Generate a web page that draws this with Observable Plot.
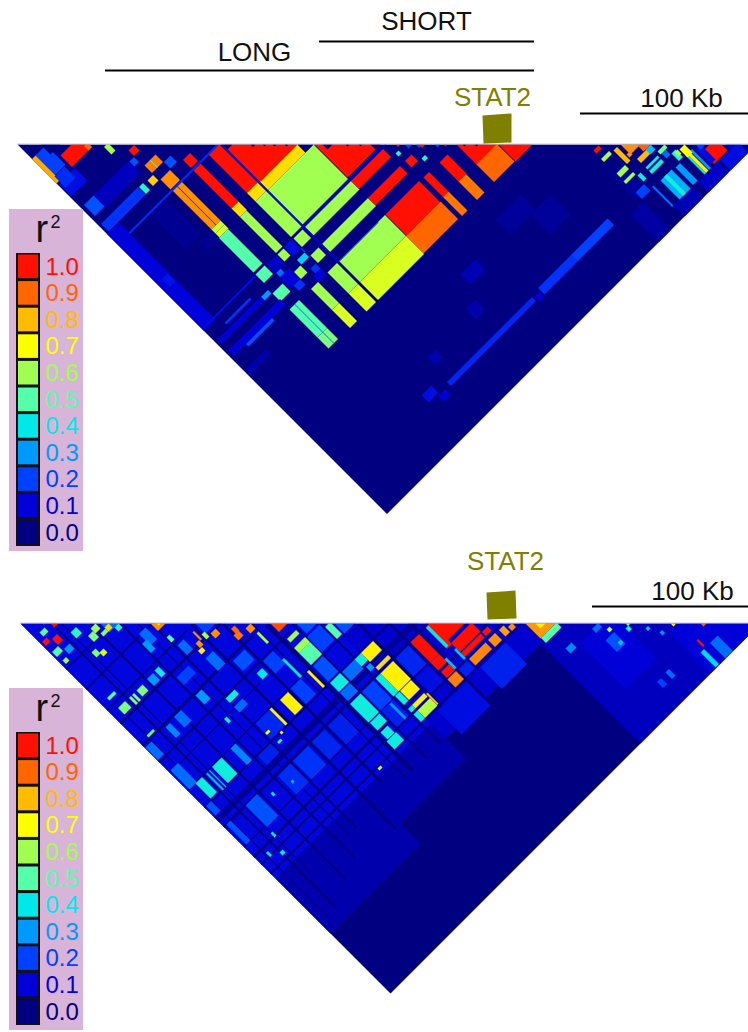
<!DOCTYPE html>
<html><head><meta charset="utf-8">
<script src="https://cdn.jsdelivr.net/npm/d3@7"></script>
<script src="https://cdn.jsdelivr.net/npm/@observablehq/plot@0.6"></script>
<style>
html,body{margin:0;padding:0;background:#fff}
svg{display:block;font-family:"Liberation Sans",Arial,sans-serif}
g[aria-label="line"].ld{filter:blur(.45px)}
</style></head><body><div id="chart"></div>
<script>
// r² colour key
const r2Values=[0,.1,.2,.3,.4,.5,.6,.7,.8,.9,1];
const r2Colors=["#000080","#0000d8","#0040ff","#0099ff","#00e8e8","#55ffaa","#a0ff50","#ffff00","#ffbb00","#ff6600","#ff1000"];
const r2Labels=["0.0","0.1","0.2","0.3","0.4","0.5","0.6","0.7","0.8","0.9","1.0"];

// Blocks of pairwise LD: [marker-A from, to, marker-B from, to, r²], positions along the region
const topBlocks=[
// central haplotype block
[222,297,222,297,1],[314,380,314,380,1],[456,497,456,497,1],[498,532,498,532,1],
[222,297,297,313,.75],[222,313,313,382,.6],
[198,219,218,295,1],[198,219,295,312,.75],[198,219,312,383,.6],[199,217,387,404,.6],[199,215,421,436,.6],
[167,181,198,214,1],[167,181,219,295,1],[167,181,295,312,.75],[167,180,312,384,.6],[167,179,387,401,.6],[166,179,421,435,.6],
[125,144,195,215,.85],[126,144,218,296,.85],[126,144,296,304,.64],[126,144,304,312,.66],[125,143,312,381,.5],[125,143,385,402,.5],[123,143,421,437,.5],[124,143,454,510,.5],[124,143,510,532,.55],
[222,314,387,404,.6],[314,378,387,403,1],[222,314,421,437,.6],[314,378,421,436,1],
[315,382,455,497,1],[314,383,497,532,.9],[222,314,455,497,.6],[222,314,497,533,.66],
[199,218,455,497,.6],[199,218,497,533,.66],[166,180,455,497,.6],[166,180,497,533,.66],
[421,437,457,495,1],[421,436,495,532,.88],[390,401,456,495,1],[390,401,495,533,.88],
[456,497,496,531,.9],[388,401,421,434,1],
// faint and thin
[181,196,412,421,.37],[147,156,404,414,.25],[186,196,434,444,.18],[152,165,434,445,.18],[108,122,413,420,.3],
[196,198,404,412,.2],[181,196,386,404,.12],[181,196,444,456,.1],[146,165,386,404,.08],[146,165,412,434,.1],
[220,222,220,384,.12],[219,222,384,455,.08],[22,216,216,219,.17],[216,386,384,386,.1],[134.5,135.5,218,296,.15],[134,135,454,532,.25],
[222,300,455,456,.05],
[49,89,71,94,1],[82,89,71,94,.9],[101,109,106,121,.6],[122,133,134,145,1],
[97,121,146,156,.22],[146,159,181,194,.22],[123,145,165,180,.87],[133.5,134.5,165,180,.5],[111,122,183,194,.77],[96,104,181,195,.45],
[21,95,180,195,.18],[23,44,144,166,.22],[19,51,98,123,.12],[42,112,144,168,.07],
[24,45,46,85,.2],[17,24,46,95,.82],[22,42,86,108,.17],
[17,40,196,390,.1],[27,38,296,312,.13],[46,98,442,450,.22],[46,96,402,406,.18],[22,124,385,388,.12],[22,108,412,420,.1],[22,125,434,445,.1],[20,60,470,480,.05],
[80,110,220,290,.02],[100,125,296,312,.02],
// long strip
[209,379,684,692,.16],[394,460,681,694,.18],[460,533,681,694,.2],[382,392,686,696,.1],[170,190,672,686,.12],[186,200,690,700,.1],
[460,500,600,640,.03],[420,470,570,600,.03],[330,360,590,610,.06],[300,320,630,650,.05],[214,230,640,655,.05],
// STAT2 flank and right cluster
[580,600,640,690,.03],[560,585,700,756,.04],[660,700,735,756,.08],[704,740,735,756,.12],[587,604,683,696,.2],[612,650,734,756,.06],
[694,721,709,733,1],[674,677,696,734,.42],[677,682,696,734,.72],[683,687,696,734,.3],
[624,646,696,734,.33],[631,637,696,734,.42],[652,661,698,733,.3],[609,612,694,734,.25],[690,700,700,730,.12],
[586,602,615,621,.6],[587,604,645,653,.6],[586,605,660,665,.6],[607,614,619,646,.8],[622,644,651,659,.8],
[622,646,668,672,.42],[622,646,675,681,.42],[606,612,668,680,.42],[620,640,620,640,.85],[616,622,636,642,.85],
[587,597,599,605,1],[640,650,650,660,.35],[652,660,665,680,.25],[662,670,680,695,.45],[666,672,682,690,.6],
[650,664,664,670,.55],[636,650,636,650,.9],[674,684,684,700,.7],
[695,705,695,705,.2],[725,735,725,735,.1],
// diagonal notches along the top
[222,232,222,232,.0],[250,255,250,255,0],[262,266,262,266,0],[272,276,272,276,0],[284,288,284,288,0],[297,313,297,313,0],
[322,332,322,332,0],[345,349,345,349,0],[358,362,358,362,0],[370,380,370,380,0],[462,466,462,466,0],[474,478,474,478,0],
[404,412,404,412,.2],[386,392,404,410,.45],[407,414,435,441,.45],[415,422,415,422,.2],[434,440,434,440,.2],[443,447,443,447,1],[395,400,395,400,1],[418,425,418,425,1],
[40,60,40,60,0],[70,85,70,85,1]
];

const bottomBlocks=[
// background levels
[20,330,20,530,.11],[330,520,330,560,.09],[20,200,530,640,.05],[520,760,520,760,.07],[200,330,530,600,.05],
[560,620,600,690,.1],[660,760,680,760,.1],
// dark gaps between haplotype groups (marker-B)
[20,560,353,355,0],[20,560,387,390,0],[20,560,408,418,.03],[20,560,425,429,0],[20,560,466,468,0],[20,560,485,489,0],[20,560,500,503,0],[20,560,519,522,0],
[20,360,218,222,0],[20,280,296,299,0],[20,240,262,266,0],[20,200,318,320,.02],[20,180,192,195,.02],[20,160,150,153,.02],[20,120,110,113,.02],
// dark gaps (marker-A)
[290,293,293,560,0],[318,321,321,560,0],[262,268,268,560,0],[250,252,252,560,0],[356,360,360,560,0],[387,391,391,560,0],[408,412,412,560,0],[430,431,431,520,0],[470,471,471,520,0],
[220,224,224,540,0],[188,192,192,600,0],[150,153,153,560,0],[118,121,121,590,0],[88,91,91,600,0],[50,53,53,620,0],[33,35,220,620,.02],[60,62,62,560,.02],[136,138,138,560,.02],
// middle-level patches
[128,141,149,172,.25],[155,167,199,218,.25],[91,103,202,216,.3],[121,130,162,180,.3],[123,135,267,285,.3],[150,167,317,328,.25],
[21,33,269,294,.25],[61,70,269,290,.28],[80,94,267,288,.25],[23,38,317,355,.25],[25,33,427,467,.22],[63,86,427,470,.22],[105,115,355,388,.28],[23,33,388,407,.22],
[38,49,89,99,.3],[100,118,100,118,.25],[195,215,195,215,.2],[170,185,240,265,.25],[122,146,230,245,.2],[195,218,270,290,.22],[225,245,300,325,.2],
[296,316,296,316,.22],[334,354,334,354,.22],[293,318,320,350,.2],[293,318,390,408,.25],[321,331,430,466,.18],[293,316,430,467,.2],[293,316,469,500,.15],
[225,250,430,467,.15],[225,245,355,386,.2],[193,218,430,465,.16],[155,185,430,467,.18],[125,150,390,408,.15],[155,185,355,386,.16],[125,150,430,467,.17],
[436,486,524,567,.15],[350,408,524,572,.12],[412,430,504,519,.15],[360,386,430,466,.16],[360,386,470,500,.12],
[270,290,320,352,.3],[270,290,355,386,.22],[270,290,409,425,.25],
[588,605,622,645,.22],[586,598,597,605,.25],[598,606,715,727,.2],[616,623,714,727,.25],[690,705,729,760,.25],
// high-LD blocks
[391,408,429,469,1],[391,408,469,485,1],[421,431,429,472,1],[428,464,428,464,1],[431,472,470,488,1],
[330,355,430,466,.72],[320,330,430,466,.42],[332,354,467,485,.72],[322,331,467,485,.42],[330,354,493,500,.72],[322,330,493,500,.42],[330,355,504,519,.62],[322,330,504,519,.42],
[433,466,504,517,.86],[391,408,503,519,.87],[392,408,489,501,1],[431,470,490,498,1],[471,485,504,518,.85],[473,484,490,498,1],[492,501,505,518,.83],[504,512,511,519,.85],
[525,555,525,555,.84],[526,557,555,565,.5],[535,545,535,545,.72],
[203,219,356,386,.72],[183,187,355,387,.72],[258,262,355,387,.72],[269,291,318,328,.6],[269,291,328,352,.5],
[270,290,389,407,.42],[269,290,430,467,.42],[270,289,469,484,.42],[271,285,489,503,.42],[268,287,504,520,.42],
[318,331,390,404,.42],[331,355,390,408,.72],[331,356,419,425,.75],[321,331,328,352,.5],
[246,250,266,287,.6],[271,289,302,309,.6],[270,287,270,287,.93],[245,249,318,354,.4],[206,217,306,318,.4],
[421,426,430,470,.4],[408,412,480,500,.35],[427,431,480,500,.35],[355,358,496,518,.8],[322,330,409,418,.3],[308,312,470,500,.3],
[33,47,202,215,.55],[69,81,203,215,.55],[54,58,203,217,.55],[60,64,203,217,.55],[32,46,181,186,.5],
[23,32,60,68,1],[36,46,67,79,1],[23,35,80,90,.5],[61,72,79,91,.45],[25,32,99,106,.6],[50,58,50,58,1],[30,40,48,56,.5],[42,52,36,44,.9],
[75,85,100,112,.55],[85,95,95,105,.6],[90,100,110,116,.55],[62,70,120,130,.55],[70,78,128,136,.65],[100,108,108,116,.75],[110,118,118,126,.45],
[107,115,201,215,.42],[183,186,201,217,.85],[221,231,245,255,.88],[150,165,150,165,.85],[156,160,156,160,.72],
[175,182,215,224,.85],[170,178,225,232,.72],[200,210,220,230,.85],[240,250,250,260,.85],[225,232,236,246,.9],[152,158,180,190,.5],[190,196,212,222,.6],
[150,168,300,309,.42],[128,133,319,328,.42],[34,47,258,262,.5],[68,87,355,387,.42],[35,48,355,385,.42],[68,82,359,386,.42],[55,58,356,389,.35],[61,63,356,389,.35],
[36,40,495,503,.4],[50,56,508,514,.4],[60,64,480,488,.4],[100,104,440,446,.4],[155,162,374,378,.7],[170,174,388,392,.72],[158,165,395,399,.45],[132,136,448,452,.35],[232,238,522,526,.62],
[600,606,612,618,.62],[620,626,630,637,.42],[598,604,636,642,.35],[640,645,650,655,.35],[650,655,668,674,.3],[671,678,729,759,.38],[679,682,713,726,1],[670,674,670,676,.72],[700,708,700,706,.9],[625,630,625,630,.6],[540,552,590,600,.28]
];

// Panel origins: where each triangle's top edge lies (y) 
const panels=[{name:"top",y0:144,blocks:topBlocks,from:17,to:756},{name:"bottom",y0:623,blocks:bottomBlocks,from:20,to:760}];

function clipDiag(pts){ // keep only the half where B >= A
  const out=[];
  pts.forEach((p,i)=>{const q=pts[(i+1)%pts.length],dp=p[1]-p[0],dq=q[1]-q[0];
    if(dp>=0)out.push(p);
    if((dp>=0)!==(dq>=0)){const t=dp/(dp-dq);out.push([p[0]+t*(q[0]-p[0]),p[1]+t*(q[1]-p[1])]);}});
  return out;
}
const rows=[];let id=0;
for(const P of panels){
  const add=(a,b,c,d,r)=>{id++;
    const lo=t=>Math.max(t,P.from),hi=t=>Math.min(t,P.to);
    clipDiag([[lo(a),lo(c)],[hi(b),lo(c)],[hi(b),hi(d)],[lo(a),hi(d)]]).forEach(([u,v])=>rows.push({id,r,x:(u+v)/2,y:P.y0+(v-u)/2}));};
  add(P.from,P.to,P.from,P.to,0);
  P.blocks.forEach(b=>add(...b));
}

// Annotation tables
const legends=[{top:253,panel:209},{top:732,panel:688}];
const legendRows=legends.flatMap(L=>r2Values.map((r,i)=>({r,label:r2Labels[i],y1:L.top+(10-i)*26.6+1.5,y2:L.top+(11-i)*26.6-1.5,ty:L.top+(10-i)*26.6+13.5})));
const hLines=[{x1:319,x2:534,y:41},{x1:105,x2:534,y:70},{x1:580,x2:748,y:113},{x1:592,x2:748,y:606}];
const titles=[{t:"SHORT",x:426,y:21},{t:"LONG",x:254,y:52},{t:"100 Kb",x:681,y:98},{t:"100 Kb",x:692,y:591}];
const geneLabels=[{t:"STAT2",x:492,y:97},{t:"STAT2",x:505,y:561}];
const geneBoxes=[[[482,115],[511,113],[511,142],[483,143]],[[486,592],[515,590],[516,618],[487,619]]]
  .flatMap((b,k)=>b.map(([x,y])=>({k,x,y})));

const plot=Plot.plot({
  width:748,height:1032,margin:0,
  x:{domain:[0,748],range:[0,748],axis:null},
  y:{domain:[0,1032],range:[0,1032],axis:null},
  color:{type:"linear",domain:r2Values,range:r2Colors},
  style:{background:"transparent"},
  marks:[
    Plot.line(rows,{x:"x",y:"y",z:"id",fill:"r",stroke:"none",curve:"linear-closed",className:"ld"}),
    Plot.ruleY(panels,{y:d=>d.y0-.5,x1:d=>d.from,x2:748,stroke:"#c9c9d8",strokeWidth:1}),
    Plot.rect(legends,{x1:9,x2:83,y1:"panel",y2:d=>d.panel+342,fill:"#d8b4d8"}),
    Plot.rect(legends,{x1:16,x2:40,y1:"top",y2:d=>d.top+293,fill:"#111"}),
    Plot.rect(legendRows,{x1:18,x2:38,y1:"y1",y2:"y2",fill:"r"}),
    Plot.text(legendRows,{x:45,y:"ty",text:"label",fill:"r",textAnchor:"start",fontSize:24}),
    Plot.text(legends,{x:35,y:d=>d.panel+20,text:()=>"r",fontSize:38,fill:"#111",textAnchor:"start"}),
    Plot.text(legends,{x:50,y:d=>d.panel+13,text:()=>"2",fontSize:18,fill:"#111",textAnchor:"start"}),
    Plot.ruleY(hLines,{x1:"x1",x2:"x2",y:"y",stroke:"#000",strokeWidth:2}),
    Plot.text(titles,{x:"x",y:"y",text:"t",fontSize:26,fill:"#111"}),
    Plot.text(geneLabels,{x:"x",y:"y",text:"t",fontSize:26,fill:"#808000"}),
    Plot.line(geneBoxes,{x:"x",y:"y",z:"k",fill:"#808000",stroke:"none",curve:"linear-closed"})
  ]
});
document.getElementById("chart").append(plot);
</script></body></html>
